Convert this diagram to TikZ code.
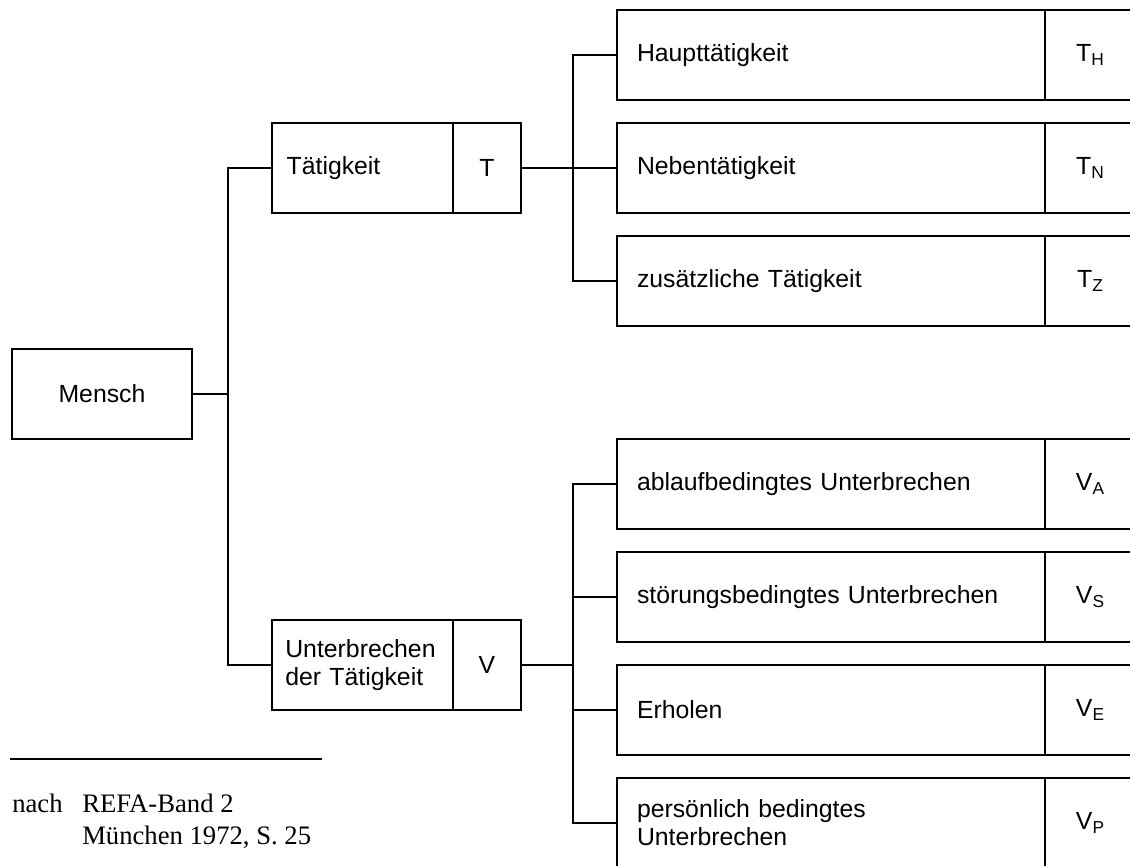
\documentclass[tikz,border=0pt]{standalone}
\usepackage{fontspec}
\setmainfont{Liberation Serif}
\setsansfont{Liberation Sans}
\newcommand\symsub[2]{#1\raisebox{-2.4pt}{\fontsize{13pt}{13pt}\selectfont #2}}
\tikzset{
  every picture/.style={x=0.75pt, y=-0.75pt},
  frame/.style={draw, line width=1.5pt, anchor=north west, inner sep=0pt, outer sep=0pt,
    minimum height=67.5pt, font=\sffamily\fontsize{18.6pt}{21pt}\selectfont},
  centerbox/.style={frame, align=center},
  labelbox/.style={frame, align=left, inner xsep=#1, inner ysep=0pt},
  link/.style={line width=1.5pt, line cap=rect},
}
\begin{document}
\begin{tikzpicture}
\useasboundingbox (0,0) rectangle (1130,865);
\clip (0,0) rectangle (1130,865);

% root
\node[centerbox, minimum width=135pt] (mensch) at (12,349) {Mensch};

% second level
\node[labelbox=11pt, text width=113.75pt] (tat) at (272,123) {Tätigkeit};
\node[centerbox, minimum width=51pt] (tatS) at (tat.north east) {T};
\node[labelbox=10pt, text width=115.75pt] (unt) at (272,620) {Unterbrechen\\der Tätigkeit};
\node[centerbox, minimum width=51pt] (untS) at (unt.north east) {V};

% third level: activities
\node[labelbox=15pt, text width=291pt] (haupt) at (617,10) {Haupttätigkeit};
\node[centerbox, minimum width=67.5pt] (hauptS) at (haupt.north east) {\symsub{T}{H}};
\node[labelbox=15pt, text width=291pt] (neben) at (617,123) {Nebentätigkeit};
\node[centerbox, minimum width=67.5pt] (nebenS) at (neben.north east) {\symsub{T}{N}};
\node[labelbox=15pt, text width=291pt] (zus) at (617,236) {zusätzliche Tätigkeit};
\node[centerbox, minimum width=67.5pt] (zusS) at (zus.north east) {\symsub{T}{Z}};

% third level: interruptions
\node[labelbox=15pt, text width=291pt] (abl) at (617,439) {ablaufbedingtes Unterbrechen};
\node[centerbox, minimum width=67.5pt] (ablS) at (abl.north east) {\symsub{V}{A}};
\node[labelbox=15pt, text width=291pt] (stoer) at (617,552) {störungsbedingtes Unterbrechen};
\node[centerbox, minimum width=67.5pt] (stoerS) at (stoer.north east) {\symsub{V}{S}};
\node[labelbox=15pt, text width=291pt] (erh) at (617,665) {Erholen};
\node[centerbox, minimum width=67.5pt] (erhS) at (erh.north east) {\symsub{V}{E}};
\node[labelbox=15pt, text width=291pt] (pers) at (617,778) {persönlich bedingtes\\Unterbrechen};
\node[centerbox, minimum width=67.5pt] (persS) at (pers.north east) {\symsub{V}{P}};

% branch points
\coordinate (jm) at (228,394);
\coordinate (jt) at (573,168);
\coordinate (ju) at (573,665);

\draw[link] (mensch.east) -- (jm);
\draw[link] (tat.west) -| (jm) |- (unt.west);

\draw[link] (tatS.east) -- (jt);
\draw[link] (haupt.west) -| (jt) |- (zus.west);
\draw[link] (jt) -- (neben.west);

\draw[link] (untS.east) -- (ju);
\draw[link] (abl.west) -| (ju) |- (pers.west);
\draw[link] (stoer.west) -| (ju);
\draw[link] (erh.west) -| (ju);

% source note
\draw[line width=1.5pt] (10,759) -- (322,759);
\node[anchor=base west, inner sep=0pt, font=\fontsize{20pt}{24pt}\selectfont] (src1) at (12,812) {nach};
\node[anchor=base west, inner sep=0pt, font=\fontsize{20pt}{24pt}\selectfont] (src2) at (82,812) {REFA-Band 2};
\node[anchor=base west, inner sep=0pt, font=\fontsize{20pt}{24pt}\selectfont] (src3) at (82,844) {München 1972, S. 25};
\end{tikzpicture}
\end{document}
